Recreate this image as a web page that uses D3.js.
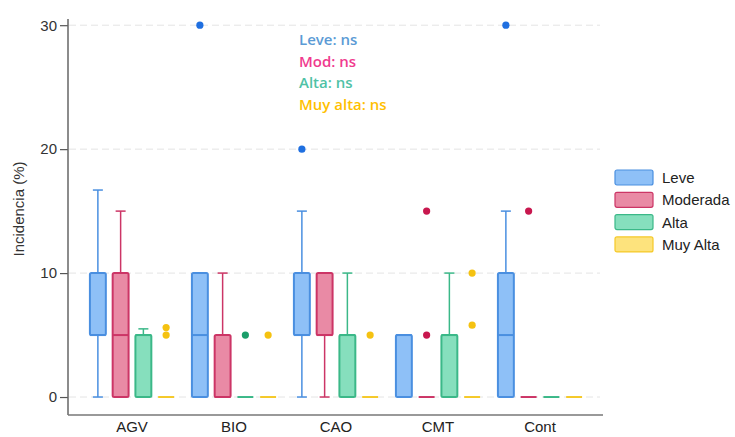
<!DOCTYPE html>
<html>
<head>
<meta charset="utf-8">
<script src="https://cdn.jsdelivr.net/npm/d3@7"></script>
<style>
    body { margin: 0; background: #fff; }
    svg { font-family: "Liberation Sans", Arial, sans-serif; }
</style>
</head>
<body>
<script>
    // categories and series
    const categories = ["AGV", "BIO", "CAO", "CMT", "Cont"];
    const seriesNames = ["Leve", "Moderada", "Alta", "Muy Alta"];

    // box stats per category: [min, q1, median, q3, max]
    const leveStats = [[0, 5, 5, 10, 16.7], [0, 0, 5, 10, 10], [0, 5, 5, 10, 15], [0, 0, 5, 5, 5], [0, 0, 5, 10, 15]];
    const modStats  = [[0, 0, 5, 10, 15], [0, 0, 0, 5, 10], [0, 5, 5, 10, 10], [0, 0, 0, 0, 0], [0, 0, 0, 0, 0]];
    const altaStats = [[0, 0, 5, 5, 5.5], [0, 0, 0, 0, 0], [0, 0, 5, 5, 10], [0, 0, 5, 5, 10], [0, 0, 0, 0, 0]];
    const muyStats  = [[0, 0, 0, 0, 0], [0, 0, 0, 0, 0], [0, 0, 0, 0, 0], [0, 0, 0, 0, 0], [0, 0, 0, 0, 0]];

    // outliers per category
    const leveOutliers = [[], [30], [20], [], [30]];
    const modOutliers  = [[], [], [], [5, 15], [15]];
    const altaOutliers = [[], [5], [], [], []];
    const muyOutliers  = [[5, 5.6], [5], [5], [5.8, 10], []];

    const yTicks = [0, 10, 20, 30];

    const annotations = ["Leve: ns", "Mod: ns", "Alta: ns", "Muy alta: ns"];
    const annotationColors = ["#5b9bd5", "#f03a8e", "#4fc2a6", "#ffc000"];

    const fills   = ["#8ec0f7", "#e98aa5", "#86dfbd", "#fde37d"];
    const strokes = ["#4a8fe0", "#cc3566", "#3bb888", "#f5c928"];
    const dots    = ["#1f6fe0", "#c8174e", "#1a9e6a", "#f5c211"];

    const allStats = [leveStats, modStats, altaStats, muyStats];
    const allOutliers = [leveOutliers, modOutliers, altaOutliers, muyOutliers];

    const width = 735, height = 437;
    const plotLeft = 68, plotRight = 603, plotTop = 19, plotBottom = 415;

    const svg = d3.select("body").append("svg")
        .attr("width", width)
        .attr("height", height);

    const x = d3.scalePoint().domain(categories).range([132, 540]);
    const sub = d3.scaleBand().domain(seriesNames).range([-45.5, 45.5])
        .paddingInner(0.3).paddingOuter(0.15);
    const y = d3.scaleLinear().domain([-1.45, 30.5]).range([plotBottom, plotTop]);

    // gridlines
    svg.selectAll(".grid")
        .data(yTicks)
        .enter()
        .append("line")
        .attr("x1", plotLeft + 1).attr("x2", 600)
        .attr("y1", d => y(d)).attr("y2", d => y(d))
        .attr("stroke", "#e4e4e4")
        .attr("stroke-width", 1)
        .attr("stroke-dasharray", "7,4");

    // y axis
    const yAxis = svg.append("g")
        .attr("transform", `translate(${plotLeft},0)`)
        .call(d3.axisLeft(y).tickValues(yTicks).tickSize(8).tickPadding(3));
    yAxis.select(".domain").remove();
    yAxis.selectAll(".tick line").attr("stroke", "#555").attr("stroke-width", 1.2);
    yAxis.selectAll(".tick text")
        .attr("font-size", "15px")
        .attr("fill", "#333")
        .attr("font-family", "Liberation Sans, Arial, sans-serif");

    svg.append("line")
        .attr("x1", plotLeft).attr("x2", plotLeft)
        .attr("y1", plotTop).attr("y2", plotBottom)
        .attr("stroke", "#666").attr("stroke-width", 1.5);
    svg.append("line")
        .attr("x1", plotLeft).attr("x2", plotRight)
        .attr("y1", plotBottom).attr("y2", plotBottom)
        .attr("stroke", "#777").attr("stroke-width", 1.5);

    // x labels
    svg.selectAll(".xlab")
        .data(categories)
        .enter()
        .append("text")
        .attr("x", d => x(d))
        .attr("y", 432)
        .attr("text-anchor", "middle")
        .attr("font-size", "15px")
        .attr("fill", "#222")
        .text(d => d);

    // y title
    svg.append("text")
        .attr("transform", "translate(24,209) rotate(-90)")
        .attr("text-anchor", "middle")
        .attr("font-size", "15px")
        .attr("fill", "#333")
        .text("Incidencia (%)");

    // boxes
    const capW = 10;
    seriesNames.forEach((s, si) => {
        const g = svg.append("g");
        categories.forEach((c, ci) => {
            const [mn, q1, med, q3, mx] = allStats[si][ci];
            const x0 = x(c) + sub(s);
            const bw = sub.bandwidth();
            const cx = x0 + bw / 2;
            const col = strokes[si];

            // whiskers
            if (mx > q3) {
                g.append("line").attr("x1", cx).attr("x2", cx)
                    .attr("y1", y(q3)).attr("y2", y(mx))
                    .attr("stroke", col).attr("stroke-width", 1.5);
                g.append("line").attr("x1", cx - capW / 2).attr("x2", cx + capW / 2)
                    .attr("y1", y(mx)).attr("y2", y(mx))
                    .attr("stroke", col).attr("stroke-width", 1.5);
            }
            if (mn < q1) {
                g.append("line").attr("x1", cx).attr("x2", cx)
                    .attr("y1", y(q1)).attr("y2", y(mn))
                    .attr("stroke", col).attr("stroke-width", 1.5);
                g.append("line").attr("x1", cx - capW / 2).attr("x2", cx + capW / 2)
                    .attr("y1", y(mn)).attr("y2", y(mn))
                    .attr("stroke", col).attr("stroke-width", 1.5);
            }

            if (q3 > q1) {
                g.append("rect")
                    .attr("x", x0).attr("y", y(q3))
                    .attr("width", bw).attr("height", y(q1) - y(q3))
                    .attr("fill", fills[si])
                    .attr("stroke", col)
                    .attr("stroke-width", 2)
                    .attr("rx", 1.5);
            }
            // median (also draws flat boxes)
            g.append("line")
                .attr("x1", x0).attr("x2", x0 + bw)
                .attr("y1", y(med)).attr("y2", y(med))
                .attr("stroke", col).attr("stroke-width", 2);

            // outliers
            g.selectAll(null)
                .data(allOutliers[si][ci])
                .enter()
                .append("circle")
                .attr("cx", cx)
                .attr("cy", d => y(d))
                .attr("r", 3.6)
                .attr("fill", dots[si]);
        });
    });

    // annotations
    svg.selectAll(".ann")
        .data(annotations)
        .enter()
        .append("text")
        .attr("x", 299)
        .attr("y", (d, i) => 45 + i * 21.5)
        .attr("font-family", "Open Sans, sans-serif")
        .attr("font-weight", 600)
        .attr("font-size", "15px")
        .attr("fill", (d, i) => annotationColors[i])
        .text(d => d);

    // legend
    const legend = svg.append("g").attr("transform", "translate(615,170)");
    seriesNames.forEach((s, i) => {
        legend.append("rect")
            .attr("x", 0).attr("y", i * 22.3)
            .attr("width", 38).attr("height", 15)
            .attr("rx", 2)
            .attr("fill", fills[i])
            .attr("stroke", strokes[i])
            .attr("stroke-width", 1.2);
        legend.append("text")
            .attr("x", 47).attr("y", i * 22.3 + 13)
            .attr("font-size", "15px")
            .attr("fill", "#222")
            .text(s);
    });
</script>
</body>
</html>
